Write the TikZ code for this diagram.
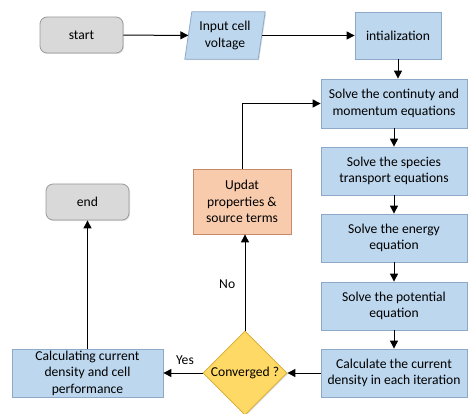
\documentclass[tikz,border=0pt]{standalone}
\usepackage{fontspec}
\setmainfont{Carlito}
\usetikzlibrary{arrows.meta,shapes.geometric,shadows}
\definecolor{bluef}{HTML}{BDD7EE}
\definecolor{blued}{HTML}{8EA9C8}
\definecolor{grayf}{HTML}{D9D9D9}
\definecolor{grayd}{HTML}{9A9A9A}
\definecolor{orangef}{HTML}{F8CBAD}
\definecolor{oranged}{HTML}{C58A6A}
\definecolor{yellowf}{HTML}{FFD966}
\definecolor{yellowd}{HTML}{D4A92E}
\tikzset{
  txt/.style={font=\fontsize{13.6}{16.5}\selectfont, align=center, inner sep=0pt},
  shad/.style={drop shadow={shadow xshift=1pt,shadow yshift=-1pt,opacity=0.25}},
  base/.style={txt, line width=0.8pt, shad},
  bluebox/.style={base, rectangle, draw=blued, fill=bluef},
  graybox/.style={base, rectangle, rounded corners=7pt, draw=grayd, fill=grayf},
  orangebox/.style={base, rectangle, draw=oranged, fill=orangef},
  decision/.style={base, diamond, draw=yellowd, fill=yellowf, minimum width=84pt, minimum height=84pt, aspect=1},
  arr/.style={-{Triangle[length=8pt,width=8pt]}, line width=1pt, black},
  lbl/.style={font=\fontsize{13.6}{16}\selectfont}
}
\begin{document}
\begin{tikzpicture}[x=1pt,y=-1pt]
\useasboundingbox (0,0) rectangle (468,414);
\node[graybox, minimum width=83pt, minimum height=36pt] (start) at (81.5,35) {start};
\node[txt, minimum width=73pt, minimum height=47pt] (input) at (225,35.5) {};
\draw[line width=0.8pt, draw=blued, fill=bluef, shad]
  ([xshift=3.5pt]input.north west) -- ([xshift=3.5pt]input.north east)
  -- ([xshift=-3.5pt]input.south east) -- ([xshift=-3.5pt]input.south west) -- cycle;
\node[txt] at (input.center) {Input cell\\voltage};
\node[bluebox, minimum width=86pt, minimum height=47pt] (init) at (398,35.5) {intialization};
\node[bluebox, minimum width=146pt, minimum height=49pt] (cont) at (394,103.5) {Solve the continuty and\\momentum equations};
\node[bluebox, minimum width=146pt, minimum height=48pt] (spec) at (394,171) {Solve the species\\transport equations};
\node[bluebox, minimum width=146pt, minimum height=48pt] (ener) at (394,238) {Solve the energy\\equation};
\node[bluebox, minimum width=146pt, minimum height=48pt] (pot) at (394,306) {Solve the potential\\equation};
\node[bluebox, minimum width=146pt, minimum height=48pt] (calc) at (394,373) {Calculate the current\\density in each iteration};
\node[decision] (conv) at (245,373) {};
\node[txt] at (conv.center) {Converged ?};
\node[bluebox, minimum width=151pt, minimum height=48pt] (perf) at (87.5,373) {Calculating current\\density and cell\\performance};
\node[graybox, minimum width=83pt, minimum height=36pt] (end) at (87.5,202) {end};
\node[orangebox, minimum width=98pt, minimum height=65pt] (upd) at (242,201.5) {Updat\\properties \&\\source terms};
\coordinate (corner) at (242,103.5);
\draw[arr] (start) -- (input);
\draw[arr] (input) -- (init);
\draw[arr] (init) -- (init.south |- cont.north);
\draw[arr] (cont) -- (spec);
\draw[arr] (spec) -- (ener);
\draw[arr] (ener) -- (pot);
\draw[arr] (pot) -- (calc);
\draw[arr] (calc) -- (conv);
\draw[arr] (conv) -- node[lbl, above=5pt, pos=0.45] {Yes} (perf);
\draw[arr] (perf.north) -- (end.south);
\draw[arr] (conv.north) -- node[lbl, pos=0.48, left=6pt] {No} (upd.south -| conv.north);
\draw[arr] (upd.north) -- (corner) -- (cont.west);
\end{tikzpicture}
\end{document}
